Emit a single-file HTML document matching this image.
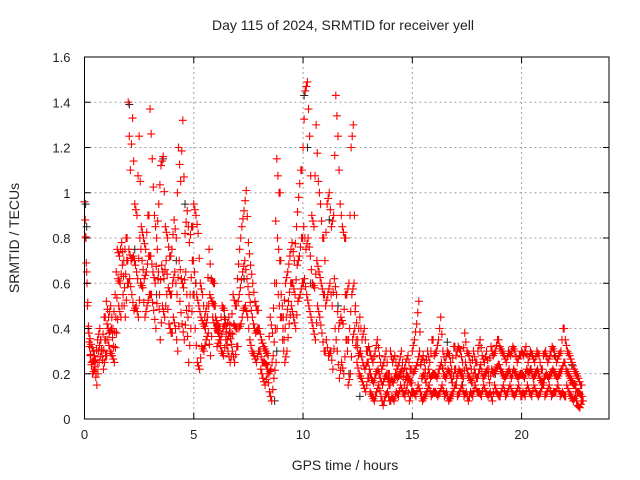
<!DOCTYPE html>
<html><head><meta charset="utf-8"><style>
body{margin:0;background:#fff;width:640px;height:480px;overflow:hidden}
svg{display:block;font-family:"Liberation Sans",sans-serif;font-size:13px;fill:#222}
</style></head><body>
<svg id="chart" width="640" height="480" viewBox="0 0 640 480">
<rect width="640" height="480" fill="#fff"/>
<g id="grid"></g>
<g id="blackpts"></g>
<g id="redpts"></g>
<g id="axes"></g>
<text x="343" y="30" text-anchor="middle" font-size="14">Day 115 of 2024, SRMTID for receiver yell</text>
<text x="345" y="470" text-anchor="middle" font-size="14">GPS time / hours</text>
<text transform="translate(19,238) rotate(-90)" text-anchor="middle" font-size="14">SRMTID / TECUs</text>
</svg>
<script>
const xTicks=[0,5,10,15,20];
const yTicks=[0,0.2,0.4,0.6,0.8,1,1.2,1.4,1.6];
const yTickLabels=["0","0.2","0.4","0.6","0.8","1","1.2","1.4","1.6"];
const hourStarts=[0,1,2,3,4,5,6,7,8,9,10,11,12,13,14,15,16,17,18,19,20,21,22];
const upperVals=[
[.96,.65,.38,.33,.30,.26,.35,.40,.30,.45],[.52,.45,.50,.40,.55,.75,.72,.78,.70,.80],
[1.40,1.10,1.33,.95,.90,1.25,.85,.80,.75,.90],[1.37,1.15,.90,.80,.95,1.12,1.16,.85,.80,.72],
[.75,.88,.80,1.20,1.05,1.32,.82,.92,.78,.85],[.95,.90,.82,.60,.55,.45,.50,.75,.62,.60],
[.45,.42,.40,.50,.48,.40,.45,.38,.55,.50],[.62,.75,.85,.92,1.01,.78,.68,.60,.52,.48],
[.40,.35,.32,.30,.28,.45,.38,.60,1.15,1.00],[.55,.45,.60,.65,.72,.78,.70,.85,.98,1.10],
[1.20,1.45,1.49,1.25,.90,.85,1.30,1.05,.95,.80],[.70,.95,1.00,.85,.90,1.43,1.25,.95,.85,.80],
[.55,.60,1.20,1.30,.50,.35,.45,.35,.40,.30],[.32,.28,.25,.30,.35,.28,.22,.25,.30,.20],
[.30,.25,.28,.22,.25,.30,.20,.25,.28,.22],[.30,.35,.42,.52,.25,.28,.22,.30,.25,.35],
[.28,.30,.35,.45,.30,.25,.30,.28,.22,.32],[.28,.32,.30,.25,.38,.30,.28,.22,.30,.25],
[.30,.35,.28,.25,.30,.22,.32,.28,.30,.35],[.32,.30,.28,.25,.30,.28,.32,.30,.25,.28],
[.30,.28,.32,.25,.30,.28,.25,.30,.28,.22],[.28,.30,.25,.28,.32,.30,.25,.28,.30,.40],
[.35,.30,.28,.25,.22,.20,.18,.15]];
const middleVals=[
[.88,.50,.32,.25,.26,.20,.30,.35,.26,.35],[.42,.38,.40,.32,.45,.62,.60,.68,.58,.70],
[.75,.70,.72,.68,.62,.80,.70,.62,.65,.72],[.72,.65,.60,.75,.55,.68,.62,.70,.58,.55],
[.60,.65,.55,.70,.62,.58,.65,.45,.55,.70],[.65,.55,.50,.45,.42,.40,.45,.55,.52,.50],
[.40,.38,.35,.40,.42,.35,.38,.33,.42,.40],[.52,.58,.65,.70,.62,.55,.48,.42,.38,.40],
[.30,.25,.25,.24,.20,.22,.28,.40,.80,.70],[.45,.35,.45,.52,.60,.60,.55,.68,.72,.80],
[.85,.75,.80,.72,.60,.58,.70,.65,.60,.55],[.50,.55,.60,.50,.62,.55,.40,.45,.42,.55],
[.30,.40,.55,.60,.35,.28,.30,.25,.22,.25],[.22,.18,.16,.20,.22,.18,.15,.18,.20,.15],
[.18,.16,.20,.18,.20,.22,.15,.20,.18,.16],[.20,.22,.25,.30,.18,.20,.16,.22,.18,.20],
[.20,.18,.22,.25,.20,.18,.22,.20,.16,.22],[.18,.22,.20,.18,.25,.20,.18,.16,.22,.18],
[.20,.24,.18,.20,.22,.16,.22,.20,.22,.24],[.22,.20,.18,.20,.22,.18,.22,.20,.18,.20],
[.20,.18,.22,.20,.22,.18,.20,.22,.18,.16],[.18,.20,.18,.20,.22,.20,.18,.20,.22,.25],
[.22,.20,.18,.16,.15,.12,.12,.10]];
const lowerVals=[
[.80,.40,.28,.20,.22,.15,.25,.30,.22,.28],[.35,.30,.28,.25,.38,.50,.45,.55,.45,.60],
[.62,.55,.48,.50,.45,.60,.58,.45,.50,.55],[.55,.48,.40,.62,.35,.50,.45,.55,.42,.38],
[.45,.40,.30,.52,.42,.35,.48,.25,.40,.55],[.40,.25,.22,.32,.30,.35,.38,.28,.45,.40],
[.32,.35,.30,.28,.35,.30,.25,.30,.25,.32],[.40,.42,.48,.50,.45,.35,.30,.28,.25,.30],
[.22,.18,.15,.20,.12,.08,.18,.25,.55,.45],[.35,.25,.30,.42,.50,.45,.40,.52,.55,.60],
[.62,.55,.50,.45,.40,.35,.50,.45,.38,.30],[.35,.28,.30,.22,.40,.30,.18,.25,.20,.35],
[.15,.20,.35,.40,.25,.20,.18,.15,.12,.18],[.12,.10,.08,.12,.15,.10,.06,.10,.12,.08],
[.10,.08,.12,.10,.15,.12,.10,.15,.08,.12],[.12,.10,.15,.12,.08,.10,.12,.15,.10,.12],
[.12,.10,.12,.15,.10,.12,.08,.10,.12,.15],[.10,.12,.15,.10,.12,.08,.12,.10,.15,.12],
[.12,.10,.15,.12,.10,.12,.08,.15,.12,.10],[.12,.15,.10,.12,.15,.12,.10,.12,.15,.10],
[.12,.10,.15,.12,.10,.15,.12,.10,.12,.15],[.10,.12,.15,.10,.12,.12,.15,.10,.12,.10],
[.15,.12,.10,.08,.10,.06,.05,.08]];
const blackHours=[0.05,0.1,2.05,2.3,3.3,3.6,4.2,4.6,5.1,6.4,7.3,8.7,8.8,10.05,10.2,10.35,11.2,11.6,12.1,12.6,14.2,15.4,16.6,17.3,18.8,20.4,21.5,22.3];
const blackVals=[0.95,0.85,1.39,0.75,0.55,1.15,0.70,0.95,0.60,0.45,0.62,0.08,0.30,1.43,1.20,0.60,0.88,0.50,0.20,0.10,0.18,0.25,0.34,0.15,0.20,0.22,0.28,0.24];

const L=84.5,R=609,T=57,B=419,XMAX=24,YMAX=1.6;
const sx=h=>L+h/XMAX*(R-L), sy=v=>B-v/YMAX*(B-T);
const NS="http://www.w3.org/2000/svg";
const grid=document.getElementById('grid'), axes=document.getElementById('axes');
function mk(tag,attrs,parent){const e=document.createElementNS(NS,tag);for(const k in attrs)e.setAttribute(k,attrs[k]);parent.appendChild(e);return e;}
xTicks.forEach((t,i)=>{
  const x=sx(t);
  if(t>0){const g=mk('line',{x1:x,x2:x,y1:T,y2:B,stroke:'#a0a0a0','stroke-dasharray':'2,3'},grid);
  
  }
  mk('line',{x1:x,x2:x,y1:B,y2:B-6,stroke:'#000'},axes);
  mk('line',{x1:x,x2:x,y1:T,y2:T+6,stroke:'#000'},axes);
  const tx=mk('text',{x:x,y:B+20,'text-anchor':'middle'},axes);tx.textContent=String(t);
  
  
});
yTicks.forEach((t,i)=>{
  const y=sy(t);
  if(t>0&&t<YMAX){const g=mk('line',{x1:L,x2:R,y1:y,y2:y,stroke:'#a0a0a0','stroke-dasharray':'2,3'},grid);
  
  }
  mk('line',{x1:L,x2:L+6,y1:y,y2:y,stroke:'#000'},axes);
  mk('line',{x1:R,x2:R-6,y1:y,y2:y,stroke:'#000'},axes);
  const tx=mk('text',{x:L-14,y:y+5,'text-anchor':'end'},axes);tx.textContent=yTickLabels[i];
  
  
});
const fr=mk('rect',{x:L,y:T,width:R-L,height:B-T,fill:'none',stroke:'#000','stroke-width':1},axes);


function plus(h,v){const x=sx(h),y=sy(v);return `M${x-4},${y}h8M${x},${y-4}v8`;}
let dR='';
[upperVals,middleVals,lowerVals].forEach((arr,ai)=>{
  arr.forEach((row,hi)=>{row.forEach((v,j)=>{
    const h=hourStarts[hi]+j/10;
    dR+=plus(h+0.033*ai,v);
    const next=row[j+1]!==undefined?row[j+1]:v;
    dR+=plus(h+0.033*ai+0.05,(v+next)/2);
  });});
});
let dB='';
blackHours.forEach((h,i)=>{dB+=plus(h,blackVals[i]);});
const pb=mk('path',{d:dB,stroke:'#222','stroke-width':1,fill:'none'},document.getElementById('blackpts'));


const pr=mk('path',{d:dR,stroke:'#ff0000','stroke-width':1.1,fill:'none'},document.getElementById('redpts'));


</script>
</body></html>
